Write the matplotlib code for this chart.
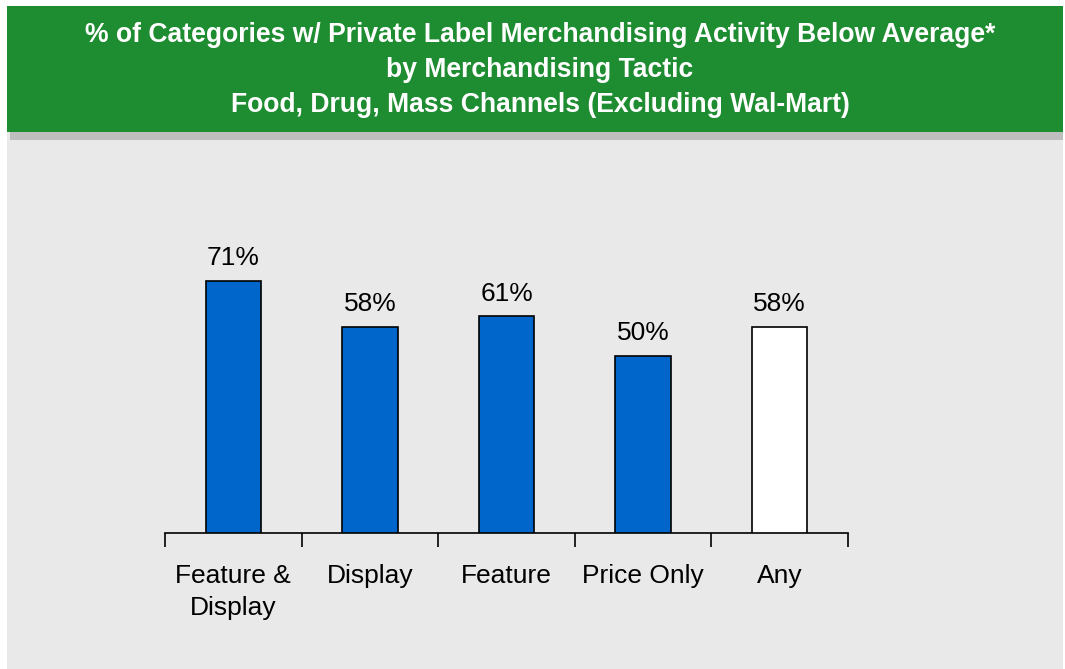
import matplotlib.pyplot as plt
from matplotlib.patches import Rectangle

plt.rcParams['font.family'] = ['Liberation Sans', 'DejaVu Sans']

categories = ['Feature &\nDisplay', 'Display', 'Feature', 'Price Only', 'Any']
values = [71, 58, 61, 50, 58]
labels = ['71%', '58%', '61%', '50%', '58%']
colors = ['#0066cc', '#0066cc', '#0066cc', '#0066cc', '#ffffff']

title = ('% of Categories w/ Private Label Merchandising Activity Below Average*\n'
         'by Merchandising Tactic\n'
         'Food, Drug, Mass Channels (Excluding Wal-Mart)')

W, H = 1065, 669
fig = plt.figure(figsize=(W / 100, H / 100), dpi=100)
fig.patch.set_facecolor('white')

# background panels (pixel coords -> figure fraction)
def box(x0, y0, x1, y1, color):
    fig.patches.append(Rectangle((x0 / W, 1 - y1 / H), (x1 - x0) / W, (y1 - y0) / H,
                                 transform=fig.transFigure, facecolor=color,
                                 edgecolor='none', zorder=0))

box(7, 132, 1063, 669, '#e9e9e9')
box(10, 132, 1063, 140, '#bebebe')
box(7, 6, 1063, 132, '#1e8c30')

fig.text(540 / W, 1 - 70 / H, title, color='white', fontsize=19.1, fontweight='bold',
         ha='center', va='center', linespacing=1.47)

ax = fig.add_axes([165 / W, 1 - 533 / H, (848 - 165) / W, 355 / H], zorder=5)
ax.set_facecolor('none')
x = range(len(categories))
ax.bar(x, values, width=0.405, color=colors, edgecolor='black', linewidth=1.2, zorder=3)
for i, (v, t) in enumerate(zip(values, labels)):
    ax.text(i, v + 3, t, ha='center', va='bottom', fontsize=19)

ax.set_xlim(-0.5, len(categories) - 0.5)
ax.set_ylim(0, 100)
for s in ['top', 'right', 'left']:
    ax.spines[s].set_visible(False)
ax.spines['bottom'].set_linewidth(1.2)
ax.set_yticks([])
ax.set_xticks([i - 0.5 for i in range(len(categories) + 1)], minor=False)
ax.set_xticklabels([])
ax.tick_params(axis='x', length=10, width=1.2, direction='out')
ax.set_xticks(list(x), minor=True)
ax.set_xticklabels(categories, minor=True, fontsize=19, linespacing=1.45, va='top')
ax.tick_params(axis='x', which='minor', length=0, pad=22)

fig.savefig('out.png', dpi=100)
